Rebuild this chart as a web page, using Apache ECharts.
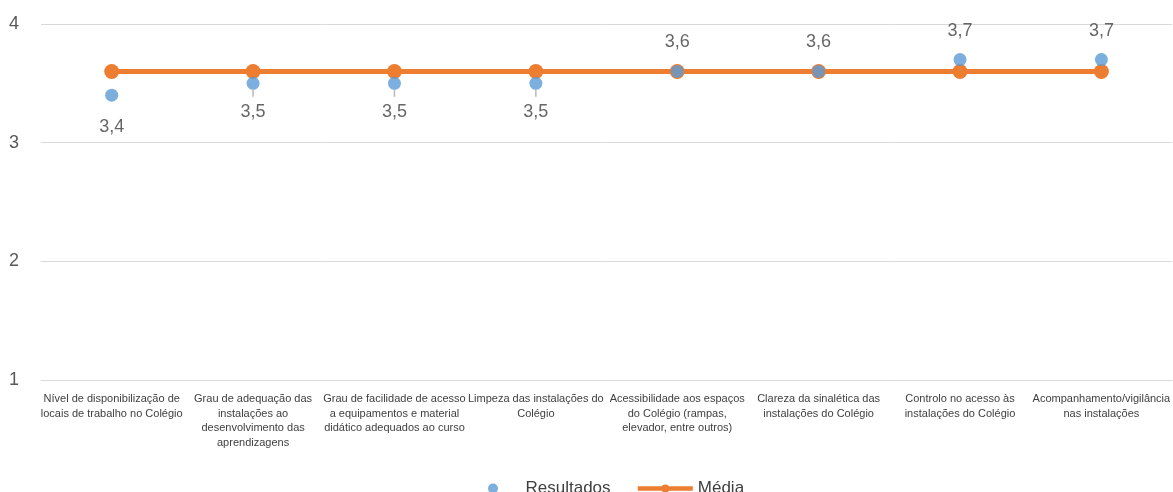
<!DOCTYPE html>
<html>
<head>
<meta charset="utf-8">
<script src="https://cdn.jsdelivr.net/npm/echarts@6/dist/echarts.min.js"></script>
<style>
html,body{margin:0;padding:0;background:#fff;}
#chart{width:1173px;height:492px;}
</style>
</head>
<body>
<div id="chart"></div>
<script>
const categories = [
  "Nível de disponibilização de\nlocais de trabalho no Colégio",
  "Grau de adequação das\ninstalações ao\ndesenvolvimento das\naprendizagens",
  "Grau de facilidade de acesso\na equipamentos e material\ndidático adequados ao curso",
  "Limpeza das instalações do\nColégio",
  "Acessibilidade aos espaços\ndo Colégio (rampas,\nelevador, entre outros)",
  "Clareza da sinalética das\ninstalações do Colégio",
  "Controlo no acesso às\ninstalações do Colégio",
  "Acompanhamento/vigilância\nnas instalações"
];
const resultados = [3.4, 3.5, 3.5, 3.5, 3.6, 3.6, 3.7, 3.7];
const media = [3.6, 3.6, 3.6, 3.6, 3.6, 3.6, 3.6, 3.6];
const yTicks = [1, 2, 3, 4];

const FONT = "'Liberation Sans', Arial, sans-serif";
const labelPos = ['bottom','bottom','bottom','bottom','top','top','top','top'];
const labelDist = [16, 0, 0, 0, 14, 14, 13, 13];
const withLine = [false, true, true, true, false, false, false, false];
const fmt = v => String(v).replace('.', ',');

const chart = echarts.init(document.getElementById('chart'), null, {renderer: 'canvas'});
chart.setOption({
  animation: false,
  textStyle: {fontFamily: FONT},
  grid: {left: 41, right: -2, top: 24, bottom: 112, containLabel: false},
  legend: {
    top: 475,
    left: 483,
    itemGap: 25,
    itemWidth: 55,
    itemHeight: 10,
    textStyle: {fontFamily: FONT, fontSize: 17, color: '#404040'},
    data: [
      {name: 'Resultados', icon: 'circle'},
      {name: 'Média', lineStyle: {width: 4.5, color: '#ED7D31'}}
    ]
  },
  xAxis: {
    type: 'category',
    data: categories,
    boundaryGap: true,
    axisLine: {show: true, lineStyle: {color: '#D9D9D9', width: 1}},
    axisTick: {show: false},
    axisLabel: {
      interval: 0,
      margin: 12,
      fontFamily: FONT,
      fontSize: 11,
      lineHeight: 14.5,
      color: '#404040',
      align: 'center'
    }
  },
  yAxis: {
    type: 'value',
    min: yTicks[0],
    max: yTicks[yTicks.length - 1],
    interval: 1,
    axisLine: {show: false},
    axisTick: {show: false},
    splitLine: {lineStyle: {color: '#D9D9D9', width: 1}},
    axisLabel: {
      margin: 22,
      fontFamily: FONT,
      fontSize: 18,
      color: '#595959'
    }
  },
  series: [
    {
      name: 'Média',
      type: 'line',
      data: media,
      symbol: 'circle',
      symbolSize: 15,
      z: 2,
      itemStyle: {color: '#ED7D31'},
      lineStyle: {color: '#ED7D31', width: 5},
      label: {show: false}
    },
    {
      name: 'Resultados',
      type: 'scatter',
      z: 3,
      symbol: 'circle',
      symbolSize: 13,
      itemStyle: {color: '#5B9BD5'},
      data: resultados.map((v, i) => ({
        value: v,
        label: {
          show: true,
          position: labelPos[i],
          distance: labelDist[i],
          formatter: withLine[i] ? '{bar| }\n{v|' + fmt(v) + '}' : fmt(v)
        }
      })),
      label: {
        show: true,
        fontFamily: FONT,
        fontSize: 18,
        color: '#404040',
        align: 'center',
        rich: {
          bar: {width: 1.5, height: 7, lineHeight: 7, fontSize: 1, backgroundColor: '#A6A6A6', align: 'center'},
          v: {fontFamily: FONT, fontSize: 18, color: '#404040', lineHeight: 31, align: 'center'}
        }
      }
    }
  ]
});
</script>
</body>
</html>
